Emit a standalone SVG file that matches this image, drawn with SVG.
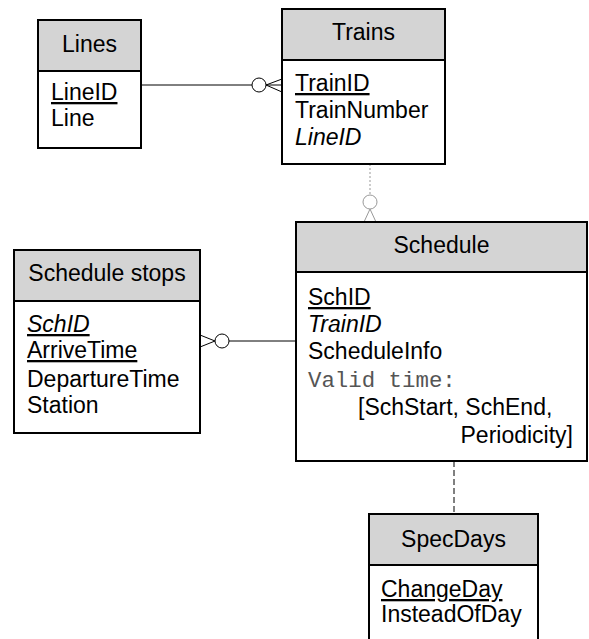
<svg xmlns="http://www.w3.org/2000/svg" width="589" height="639" viewBox="0 0 589 639">
<style>
.box{fill:#fff;stroke:#000;stroke-width:2}
.hdr{fill:#d4d4d4;stroke:#000;stroke-width:2}
.t{font-family:"Liberation Sans",Arial,sans-serif;font-size:23px;fill:#000}
.h{text-anchor:middle}
.u{text-decoration:underline}
.i{font-style:italic}
.m{font-family:"Liberation Mono","Courier New",monospace;font-size:22.4px;fill:#555}
.c{fill:none;stroke:#000;stroke-width:1}
.g{fill:none;stroke:#999;stroke-width:1;stroke-dasharray:2 2}
</style>
<rect width="589" height="639" fill="#fff"/>
<g id="connectors">
  <path class="c" d="M141 85H252"/>
  <circle cx="259" cy="85" r="7" fill="#fff" stroke="#000"/>
  <path class="c" d="M282 79L266 85L282 92M266 85H282"/>
  <path class="g" d="M370 164V195"/>
  <circle cx="370" cy="202" r="7" fill="#fff" stroke="#999"/>
  <path class="c" style="stroke:#999" d="M364 222L370 209L376 222"/>
  <path class="c" d="M229 341H296"/>
  <circle cx="222" cy="341" r="7" fill="#fff" stroke="#000"/>
  <path class="c" d="M200 335L215 341L200 347"/>
  <path class="c" stroke-dasharray="6 3" d="M454 461V514"/>
</g>
<g id="lines">
  <rect class="box" x="38" y="20" width="103" height="128"/>
  <rect class="hdr" x="38" y="20" width="103" height="51"/>
  <text class="t h" x="89.5" y="52">Lines</text>
  <text class="t u" x="51" y="100">LineID</text>
  <text class="t" x="51" y="126">Line</text>
</g>
<g id="trains">
  <rect class="box" x="282" y="9" width="163" height="155"/>
  <rect class="hdr" x="282" y="9" width="163" height="51"/>
  <text class="t h" x="363.5" y="40">Trains</text>
  <text class="t u" x="295" y="91">TrainID</text>
  <text class="t" x="295" y="118">TrainNumber</text>
  <text class="t i" x="295" y="145">LineID</text>
</g>
<g id="schedule">
  <rect class="box" x="296" y="222" width="291" height="239"/>
  <rect class="hdr" x="296" y="222" width="291" height="50"/>
  <text class="t h" x="441.5" y="253">Schedule</text>
  <text class="t u" x="308" y="305">SchID</text>
  <text class="t i" x="308" y="332">TrainID</text>
  <text class="t" x="308" y="359">ScheduleInfo</text>
  <text class="m" x="308" y="387">Valid time:</text>
  <text class="t" x="358" y="415">[SchStart, SchEnd,</text>
  <text class="t" x="573" y="443" text-anchor="end">Periodicity]</text>
</g>
<g id="schedule-stops">
  <rect class="box" x="14" y="250" width="186" height="183"/>
  <rect class="hdr" x="14" y="250" width="186" height="51"/>
  <text class="t h" x="107" y="281">Schedule stops</text>
  <text class="t u i" x="27" y="332">SchID</text>
  <text class="t u" x="27" y="358">ArriveTime</text>
  <text class="t" x="27" y="387">DepartureTime</text>
  <text class="t" x="27" y="413">Station</text>
</g>
<g id="specdays">
  <rect class="box" x="369" y="514" width="169" height="140"/>
  <rect class="hdr" x="369" y="514" width="169" height="51"/>
  <text class="t h" x="453.5" y="547">SpecDays</text>
  <text class="t u" x="381" y="597">ChangeDay</text>
  <text class="t" x="381" y="622">InsteadOfDay</text>
</g>
</svg>
